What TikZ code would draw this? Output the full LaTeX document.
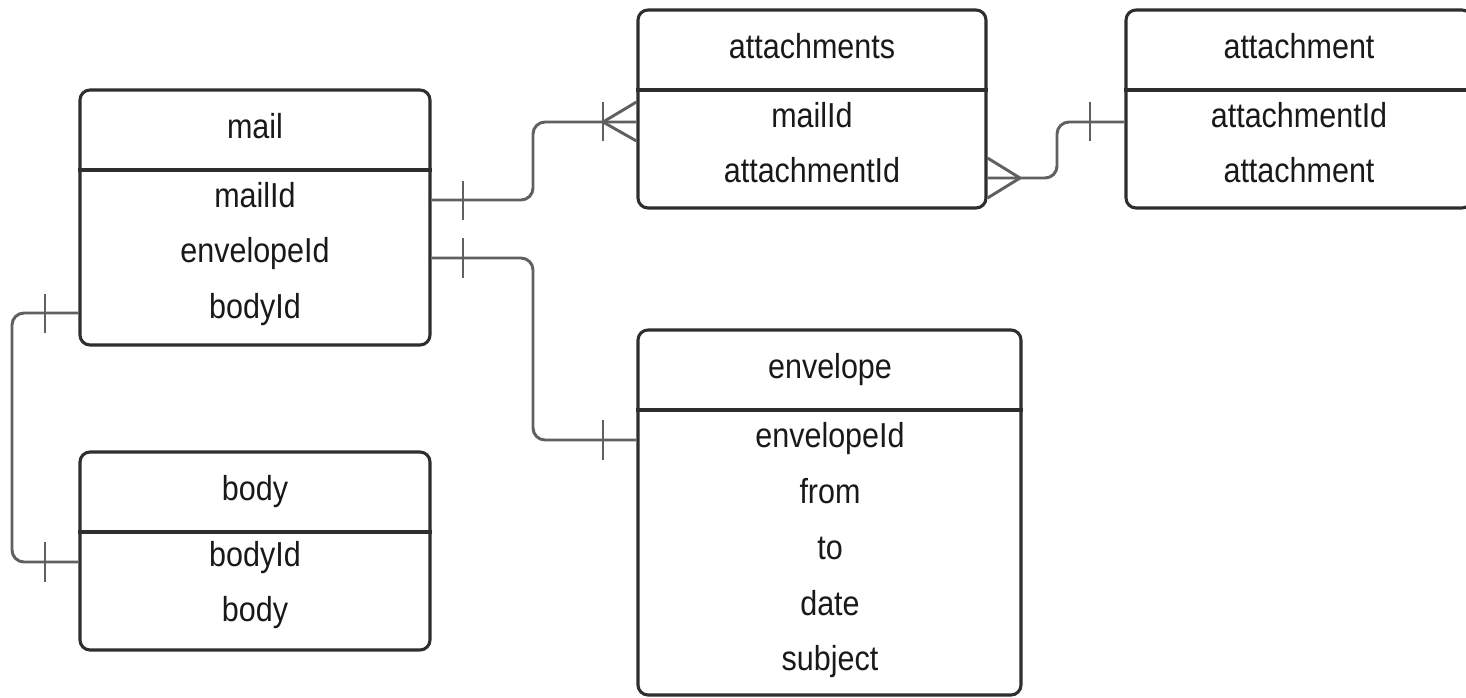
\documentclass[tikz,border=0pt]{standalone}
\usepackage{fontspec}
\setmainfont{Liberation Sans}[FakeStretch=0.88]
\usetikzlibrary{fit,calc}
\definecolor{bordc}{HTML}{2E2E2E}
\definecolor{connc}{HTML}{606060}
\begin{document}
\begin{tikzpicture}[x=0.75pt,y=-0.75pt,
  entity/.style={draw=bordc, line width=2.3pt, rounded corners=7.5pt, inner sep=0pt, fill=white},
  hdr/.style={draw=bordc, line width=2.3pt},
  lbl/.style={anchor=base, inner sep=0pt, font=\fontsize{26pt}{30pt}\selectfont, text=black!90},
  conn/.style={draw=connc, line width=2.2pt, rounded corners=9pt},
  tick/.style={draw=connc, line width=2.2pt}
]
\clip (0,0) rectangle (1466,697);

% entities
\node[entity, fit={(80,90)(430,345)}] (mail) {};
\draw[hdr] (mail.west |- 0,170) -- (mail.east |- 0,170);
\node[lbl] (mailT) at (255,138) {mail};
\node[lbl] (mailR1) at (255,207) {mailId};
\node[lbl] (mailR2) at (255,262) {envelopeId};
\node[lbl] (mailR3) at (255,318) {bodyId};

\node[entity, fit={(80,452)(430,650)}] (body) {};
\draw[hdr] (body.west |- 0,532) -- (body.east |- 0,532);
\node[lbl] (bodyT) at (255,500) {body};
\node[lbl] (bodyR1) at (255,566) {bodyId};
\node[lbl] (bodyR2) at (255,621) {body};

\node[entity, fit={(638,10)(986,208)}] (atts) {};
\draw[hdr] (atts.west |- 0,90) -- (atts.east |- 0,90);
\node[lbl] (attsT) at (812,58) {attachments};
\node[lbl] (attsR1) at (812,127) {mailId};
\node[lbl] (attsR2) at (812,182) {attachmentId};

\node[entity, fit={(1126,10)(1472,208)}] (att) {};
\draw[hdr] (att.west |- 0,90) -- (att.east |- 0,90);
\node[lbl] (attT) at (1299,58) {attachment};
\node[lbl] (attR1) at (1299,127) {attachmentId};
\node[lbl] (attR2) at (1299,182) {attachment};

\node[entity, fit={(638,330)(1021,695)}] (env) {};
\draw[hdr] (env.west |- 0,410) -- (env.east |- 0,410);
\node[lbl] (envT) at (830,378) {envelope};
\node[lbl] (envR1) at (830,447) {envelopeId};
\node[lbl] (envR2) at (830,503) {from};
\node[lbl] (envR3) at (830,559) {to};
\node[lbl] (envR4) at (830,615) {date};
\node[lbl] (envR5) at (830,670) {subject};

% mail -- attachments
\draw[conn] (mail.east |- 0,200) -- (533,200) -- (533,122) -- (atts.west |- 0,122);
\draw[tick] (463,181) -- (463,220);
\draw[tick] (603,102) -- (603,141);
\draw[tick] (atts.west |- 0,102) -- (603,122) -- (atts.west |- 0,141);

% attachments -- attachment
\draw[conn] (atts.east |- 0,178) -- (1057,178) -- (1057,122) -- (att.west |- 0,122);
\draw[tick] (atts.east |- 0,158) -- (1020,178) -- (atts.east |- 0,198);
\draw[tick] (1090,102) -- (1090,141);

% mail -- envelope
\draw[conn] (mail.east |- 0,258) -- (533,258) -- (533,440) -- (env.west |- 0,440);
\draw[tick] (463,238) -- (463,278);
\draw[tick] (603,420) -- (603,460);

% mail -- body
\draw[conn] (mail.west |- 0,313) -- (12,313) -- (12,562) -- (body.west |- 0,562);
\draw[tick] (45,294) -- (45,333);
\draw[tick] (45,542) -- (45,582);
\end{tikzpicture}
\end{document}
